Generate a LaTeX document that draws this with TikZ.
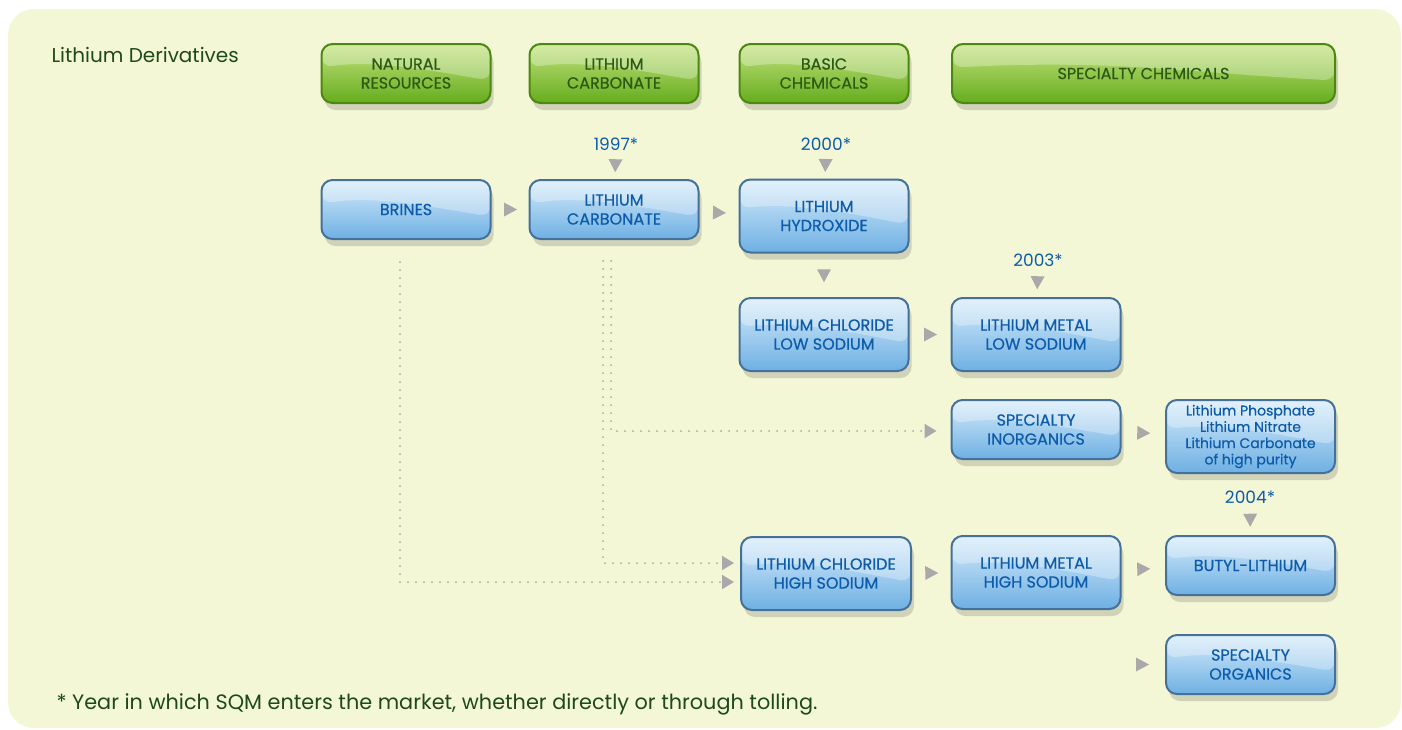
\documentclass[tikz,border=0pt]{standalone}
\usepackage{fontspec}
\setmainfont{Poppins}
\newfontfamily\boxfont{Poppins}[FakeBold=0.6]
\usepackage{tikz}
\usetikzlibrary{arrows.meta,positioning,shadows,decorations.markings,calc}
\definecolor{paper}{HTML}{F4F7D6}
\definecolor{gtop}{HTML}{C2E27C}
\definecolor{gbot}{HTML}{66AC1E}
\definecolor{gline}{HTML}{4A8810}
\definecolor{gtext}{HTML}{2C5A14}
\definecolor{btop}{HTML}{D6EBFA}
\definecolor{bbot}{HTML}{6EB0E3}
\definecolor{bline}{HTML}{44709A}
\definecolor{btext}{HTML}{0D5CAB}
\definecolor{tipgrey}{HTML}{A9A9A9}
\definecolor{darkgreen}{HTML}{1E4A1A}

\begin{document}
\begin{tikzpicture}[x=1pt,y=-1pt,
  box/.style={rounded corners=11pt,line width=2pt,align=center,inner sep=2pt,
    minimum width=169pt,minimum height=59pt,font=\boxfont\fontsize{16}{19}\selectfont,
    drop shadow={shadow xshift=3pt,shadow yshift=-7pt,opacity=0.18,fill=black!80},
    path picture={\fill[white,opacity=0.3]
      (path picture bounding box.north west) -- (path picture bounding box.north east)
      -- ($(path picture bounding box.north east)!0.62!(path picture bounding box.south east)$)
      .. controls ($(path picture bounding box.center)+(30,-2)$) and ($(path picture bounding box.center)+(-30,-14)$)
      .. ($(path picture bounding box.north west)!0.4!(path picture bounding box.south west)$) -- cycle;}},
  head/.style={box,draw=gline,text=gtext,top color=gtop,bottom color=gbot},
  prod/.style={box,draw=bline,text=btext,top color=btop,bottom color=bbot},
  tall/.style={minimum height=73pt},
  year/.style={text=btext,font=\fontsize{17}{18}\selectfont,inner sep=1pt},
  gap/.style={decoration={markings,mark=at position 0.5 with
    {\fill[tipgrey] (-6pt,-7pt) -- (7pt,0pt) -- (-6pt,7pt) -- cycle;}},postaction={decorate}},
  feed/.style={tipgrey,line width=2pt,line cap=round,dash pattern=on 0pt off 8pt,
    -{Triangle[length=12pt,width=14pt]}}]

\useasboundingbox (0,0) rectangle (1402,729);
\fill[white] (0,0) rectangle (1402,729);
\fill[paper,rounded corners=26pt] (8,9) rectangle (1401,728);

% ---- titles ------------------------------------------------------------
\node[anchor=west,text=darkgreen,font=\fontsize{20}{22}\selectfont] (title) at (48,55) {Lithium Derivatives};
\node[anchor=west,text=darkgreen,font=\fontsize{20.8}{22}\selectfont] (note) at (53,704)
  {* Year in which SQM enters the market, whether directly or through tolling.};

% ---- green headers -----------------------------------------------------
\node[head]                      (hnat)   at (406,73.5)    {NATURAL\\RESOURCES};
\node[head]                      (hcarb)  at (614,73.5)    {LITHIUM\\CARBONATE};
\node[head]                      (hbasic) at (824,73.5)    {BASIC\\CHEMICALS};
\node[head,minimum width=383pt]  (hspec)  at (1143.5,73.5) {SPECIALTY CHEMICALS};

% ---- products ----------------------------------------------------------
\node[prod]                      (brines) at (406,209.5)   {BRINES};
\node[prod]                      (carb)   at (614,209.5)   {LITHIUM\\CARBONATE};
\node[prod,tall]                 (hydrox) at (824,216)     {LITHIUM\\HYDROXIDE};
\node[prod,tall]                 (clow)   at (824,334.5)   {LITHIUM CHLORIDE\\LOW SODIUM};
\node[prod,tall]                 (mlow)   at (1036,334.5)  {LITHIUM METAL\\LOW SODIUM};
\node[prod]                      (inorg)  at (1036,429.5)  {SPECIALTY\\INORGANICS};
\node[prod,tall,font=\boxfont\fontsize{14}{16.3}\selectfont]
                                 (salts)  at (1250.5,436.5) {Lithium Phosphate\\Lithium Nitrate\\Lithium Carbonate\\of high purity};
\node[prod,tall,minimum width=170pt] (chigh) at (826,573.5) {LITHIUM CHLORIDE\\HIGH SODIUM};
\node[prod,tall]                 (mhigh)  at (1036,572.5)  {LITHIUM METAL\\HIGH SODIUM};
\node[prod]                      (butyl)  at (1250.5,565.5) {BUTYL-LITHIUM};
\node[prod]                      (organ)  at (1250.5,664.5) {SPECIALTY\\ORGANICS};

% ---- years of entry ----------------------------------------------------
\node[year] (y97) at (616,144)  {1997*};
\node[year] (y00) at (826,144)  {2000*};
\node[year] (y03) at (1038,260) {2003*};
\node[year] (y04) at (1250,497) {2004*};

% ---- the flow ----------------------------------------------------------
\path[gap] (brines) -- (carb);
\path[gap] (carb) -- (hydrox);
\path[gap] (hydrox) -- (clow);
\path[gap] (clow) -- (mlow);
\path[gap] (inorg) -- (salts);
\path[gap] (chigh) -- (mhigh);
\path[gap] (mhigh) -- (butyl);
\coordinate (orgin) at ([xshift=-46pt]organ.west);
\path[gap] (orgin) -- (organ);
\path[gap] (y97) -- (carb);
\path[gap] (y00) -- (hydrox);
\path[gap] (y03) -- (mlow);
\path[gap] (y04) -- (butyl);

% ---- dotted feeds ------------------------------------------------------
\draw[feed,shorten >=6pt]  ([xshift=-6pt,yshift=-22pt]brines.south) |- ([yshift=-8.5pt]chigh.west);
\draw[feed,shorten >=6pt]  ([xshift=-11pt,yshift=-21pt]carb.south) |- ([yshift=10.5pt]chigh.west);
\draw[feed,shorten >=14pt] ([xshift=-3pt,yshift=-21pt]carb.south) |- ([yshift=-1.5pt]inorg.west);
\end{tikzpicture}
\end{document}
